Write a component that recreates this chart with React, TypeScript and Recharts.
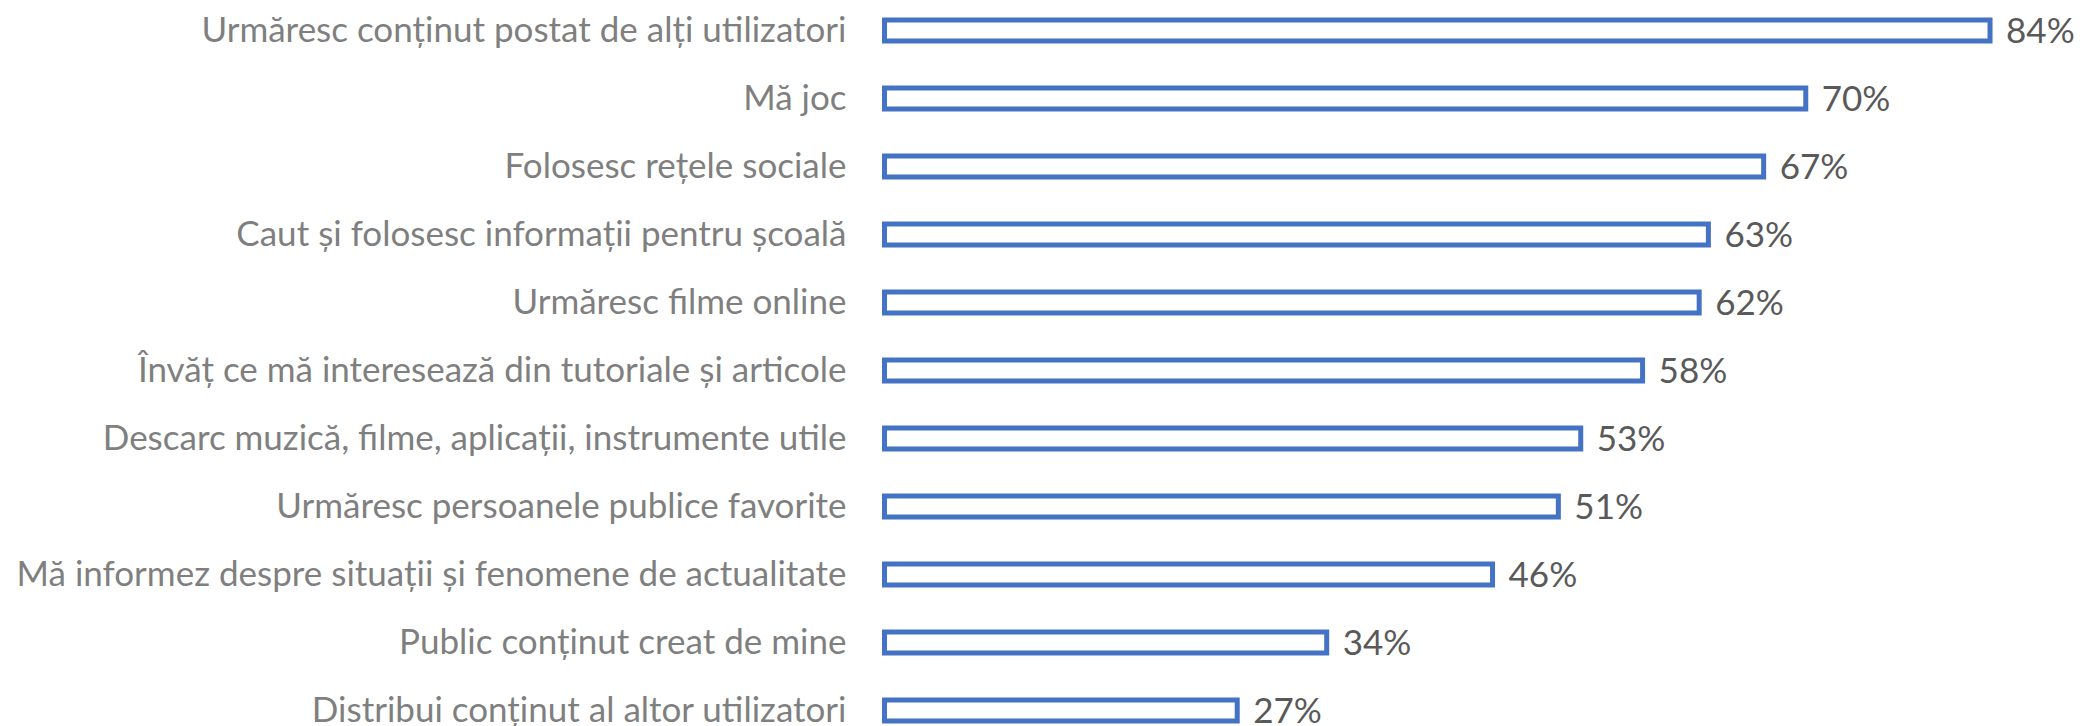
import { BarChart, Bar, XAxis, YAxis, LabelList } from "recharts"

const categories = [
  "Urmăresc conținut postat de alți utilizatori",
  "Mă joc",
  "Folosesc rețele sociale",
  "Caut și folosesc informații pentru școală",
  "Urmăresc filme online",
  "Învăț ce mă interesează din tutoriale și articole",
  "Descarc muzică, filme, aplicații, instrumente utile",
  "Urmăresc persoanele publice favorite",
  "Mă informez despre situații și fenomene de actualitate",
  "Public conținut creat de mine",
  "Distribui conținut al altor utilizatori",
]

// bar lengths
const values = [84, 70, 66.8, 62.6, 61.9, 57.6, 52.9, 51.2, 46.2, 33.6, 26.8]

// percentages printed next to the bars
const valueLabels = ["84%", "70%", "67%", "63%", "62%", "58%", "53%", "51%", "46%", "34%", "27%"]

const data = categories.map((name, i) => ({ name, value: values[i], label: valueLabels[i] }))

const FONT = "Lato, 'Open Sans', sans-serif"

export default function App() {
  return (
    <div style={{ position: "fixed", left: 0, top: -4, width: 2080, height: 748, background: "#fff" }}>
      <BarChart
        width={2080}
        height={748}
        data={data}
        layout="vertical"
        margin={{ top: 0, right: 11, bottom: 0, left: 0 }}
        barCategoryGap={0}
      >
        <XAxis type="number" domain={[0, 90]} hide />
        <YAxis
          type="category"
          dataKey="name"
          width={884.5}
          axisLine={false}
          tickLine={false}
          tickSize={0}
          tickMargin={38}
          interval={0}
          tick={{ fill: "#7F7F7F", fontSize: 35, fontFamily: FONT }}
        />
        <Bar
          dataKey="value"
          barSize={21}
          fill="#FFFFFF"
          stroke="#4472C4"
          strokeWidth={5}
          isAnimationActive={false}
        >
          <LabelList
            dataKey="label"
            position="right"
            offset={16}
            style={{ fill: "#595959", fontSize: 35, fontFamily: FONT }}
          />
        </Bar>
      </BarChart>
    </div>
  )
}
